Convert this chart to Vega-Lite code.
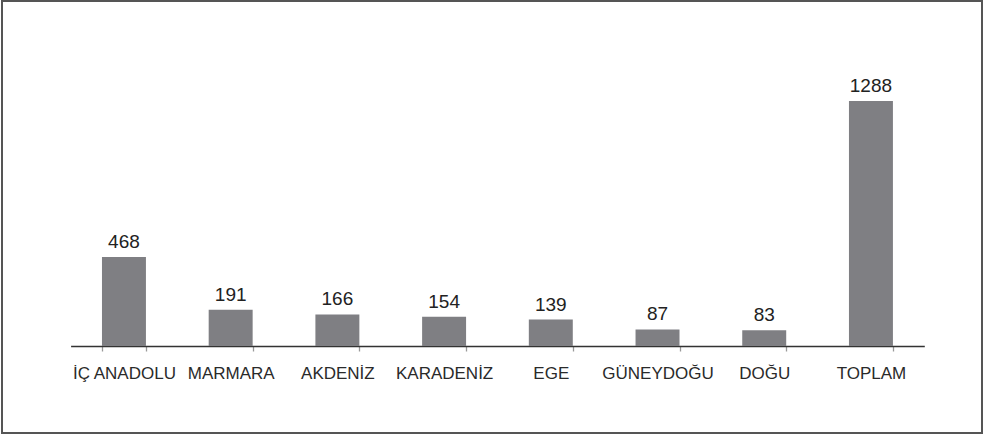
{
  "$schema": "https://vega.github.io/schema/vega-lite/v6.json",
  "autosize": "none",
  "width": 980,
  "height": 432,
  "padding": {"left": 2, "top": 1, "right": 2, "bottom": 4},
  "background": "white",
  "config": {"view": {"stroke": "#555555", "strokeWidth": 2}},
  "data": {"values": [
    {"bolge": "İÇ ANADOLU", "sayi": 468},
    {"bolge": "MARMARA", "sayi": 191},
    {"bolge": "AKDENİZ", "sayi": 166},
    {"bolge": "KARADENİZ", "sayi": 154},
    {"bolge": "EGE", "sayi": 139},
    {"bolge": "GÜNEYDOĞU", "sayi": 87},
    {"bolge": "DOĞU", "sayi": 83},
    {"bolge": "TOPLAM", "sayi": 1288}
  ]},
  "encoding": {
    "x": {
      "field": "bolge", "type": "nominal", "sort": null,
      "scale": {"range": [68.6, 922.3], "paddingInner": 0.588, "paddingOuter": 0.294},
      "axis": {
        "title": null, "orient": "bottom", "offset": -87, "labelAngle": 0,
        "domainColor": "#333333", "domainWidth": 1.3,
        "tickBand": "extent", "tickColor": "#999999", "tickSize": 5, "tickWidth": 1.3,
        "labelFont": "Liberation Sans", "labelFontSize": 17, "labelColor": "#2a2a2a",
        "labelPadding": 14, "labelOverlap": false
      }
    },
    "y": {
      "field": "sayi", "type": "quantitative",
      "scale": {"domain": [0, 1288], "range": [345, 100], "nice": false},
      "axis": null
    }
  },
  "layer": [
    {"mark": {"type": "bar", "color": "#7f7f83"}},
    {"mark": {"type": "text", "baseline": "alphabetic", "dy": -9, "font": "Liberation Sans", "fontSize": 19, "color": "#222222"},
     "encoding": {"text": {"field": "sayi", "type": "quantitative"}}}
  ]
}
